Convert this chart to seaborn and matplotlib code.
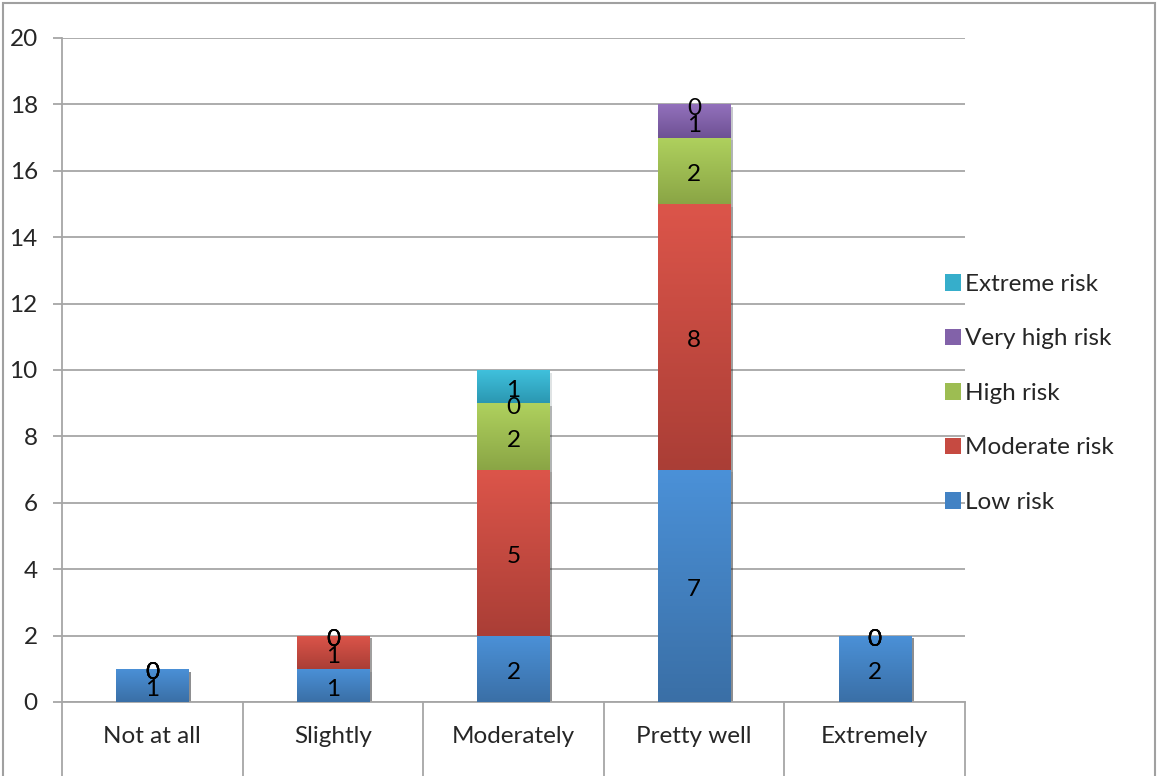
import numpy as np
import pandas as pd
import seaborn as sns
import matplotlib.pyplot as plt
from matplotlib.patches import Patch, Rectangle
from matplotlib.colors import LinearSegmentedColormap
import matplotlib.patheffects as pe

categories = ["Not at all", "Slightly", "Moderately", "Pretty well", "Extremely"]
series = ["Low risk", "Moderate risk", "High risk", "Very high risk", "Extreme risk"]
low_risk = [1, 1, 2, 7, 2]
moderate_risk = [0, 1, 5, 8, 0]
high_risk = [0, 0, 2, 2, 0]
very_high_risk = [0, 0, 0, 1, 0]
extreme_risk = [0, 0, 1, 0, 0]

top_colors = ["#4b91d8", "#dc554a", "#afd15e", "#9371bc", "#40c2de"]
bottom_colors = ["#3a6fa6", "#aa3e36", "#8aa545", "#6e5194", "#2b97b1"]
mid_colors = ["#4282c4", "#c64a41", "#9dbd52", "#8262a9", "#36aecb"]

sns.set_style("white")
plt.rcParams["font.family"] = ["Lato", "DejaVu Sans"]
fs = 17.5
grid_col = "#a6a6a6"

values = np.array([low_risk, moderate_risk, high_risk, very_high_risk, extreme_risk])
cum = values.cumsum(axis=0)
df = pd.DataFrame(cum.T, columns=series)
df["category"] = categories
long = df.melt(id_vars="category", var_name="series", value_name="total")

fig = plt.figure(figsize=(11.57, 7.76), dpi=100)
ax = fig.add_axes([62 / 1157, 1 - 702 / 776, 903 / 1157, 664 / 776])

# cumulative bars, tallest first so each lower level sits on top
bars = {}
for i in reversed(range(len(series))):
    n0 = len(ax.patches)
    sns.barplot(data=long[long["series"] == series[i]], x="category", y="total",
                order=categories, color=bottom_colors[i], saturation=1,
                width=0.4, errorbar=None, linewidth=0, ax=ax, zorder=2)
    bars[i] = ax.patches[n0:]

grad = np.linspace(0, 1, 256).reshape(-1, 1)
for i in range(len(series)):
    cmap = LinearSegmentedColormap.from_list("g%d" % i, [bottom_colors[i], top_colors[i]])
    for j, p in enumerate(bars[i]):
        p.set_path_effects([pe.SimplePatchShadow(offset=(2, -2), alpha=0.13), pe.Normal()])
        b = cum[i - 1, j] if i > 0 else 0
        t = cum[i, j]
        if t > b:
            x0 = p.get_x()
            im = ax.imshow(grad, cmap=cmap, aspect="auto", origin="lower",
                           extent=(x0, x0 + p.get_width(), b, t), zorder=3)
            im.set_clip_path(p)

# value labels in the middle of each segment
for i in range(len(series)):
    for j in range(len(categories)):
        b = cum[i - 1, j] if i > 0 else 0
        ax.annotate(str(values[i, j]), (j, b + values[i, j] / 2), xytext=(0, -3),
                    textcoords="offset points", ha="center", va="center",
                    fontsize=fs, color="black", zorder=5)

ax.set_xlim(-0.5, 4.5)
ax.set_ylim(0, 20)
ax.set_yticks(range(0, 21, 2))
ax.set_xlabel("")
ax.set_ylabel("")
ax.yaxis.grid(True, color=grid_col, linewidth=1.3)
ax.set_axisbelow(True)
for s in ["top", "right"]:
    ax.spines[s].set_visible(False)
for s in ["left", "bottom"]:
    ax.spines[s].set_color(grid_col)
    ax.spines[s].set_linewidth(1.3)
ax.tick_params(axis="y", direction="out", length=6.5, width=1.3, color=grid_col,
               labelsize=fs, pad=11, left=True)
ax.tick_params(axis="x", length=0, labelsize=fs, pad=17)

# category dividers under the axis
xt = ax.get_xaxis_transform()
for k in np.arange(-0.5, len(categories), 1.0):
    ax.plot([k, k], [0, -0.12], transform=xt, color=grid_col, lw=1.3, clip_on=False)

handles = [Patch(facecolor=mid_colors[i], edgecolor="none", label=series[i])
           for i in reversed(range(len(series)))]
fig.legend(handles=handles, loc="center left", bbox_to_anchor=(945 / 1157, 0.493),
           frameon=False, fontsize=fs, handlelength=0.66, handleheight=0.66,
           handletextpad=0.15, labelspacing=1.38, borderpad=0, borderaxespad=0)

fig.patches.append(Rectangle((3 / 1157, -0.01), 1152 / 1157, 1.01 - 3 / 776,
                             transform=fig.transFigure, fill=False,
                             edgecolor="#a0a0a0", linewidth=1.5))

fig.savefig("out.png", dpi=100)
